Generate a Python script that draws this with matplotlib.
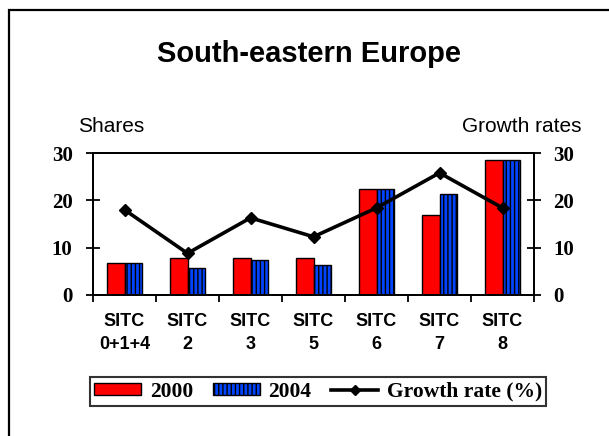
import numpy as np
import matplotlib.pyplot as plt
from matplotlib.patches import Rectangle, Patch
from matplotlib.lines import Line2D

# Data
categories = ["SITC\n0+1+4", "SITC\n2", "SITC\n3", "SITC\n5", "SITC\n6", "SITC\n7", "SITC\n8"]
shares_2000 = [6.8, 7.9, 7.9, 7.9, 22.5, 16.8, 28.6]
shares_2004 = [6.8, 5.6, 7.5, 6.4, 22.5, 21.3, 28.6]
growth_rate = [18.0, 8.8, 16.3, 12.3, 18.4, 25.8, 18.4]
y_ticks = [0, 10, 20, 30]

W, H = 609, 436
plt.rcParams["hatch.linewidth"] = 1.0

fig = plt.figure(figsize=(W / 100, H / 100), dpi=100)
fig.patch.set_facecolor("white")

# outer frame (only top/left visible in the reference)
fig.patches.append(Rectangle((9 / W, -0.2), 1.2, 1.2 - 10 / H, transform=fig.transFigure,
                             fill=False, edgecolor="black", linewidth=1.6))

ax = fig.add_axes([93 / W, 1 - 295 / H, 441 / W, 142 / H])
x = np.arange(len(categories))
bw = 0.27

ax.bar(x - bw / 2, shares_2000, bw, color="#ff0000", edgecolor="black", linewidth=1.0, zorder=2)
ax.bar(x + bw / 2, shares_2004, bw, color="#0044ff", edgecolor="black", linewidth=1.0,
       hatch="||||", zorder=2)

ax.set_xlim(-0.5, len(categories) - 0.5)
ax.set_ylim(0, 30)
ax.set_yticks(y_ticks)
ax.set_yticklabels([str(v) for v in y_ticks], fontfamily="Liberation Serif",
                   fontweight="bold", fontsize=15)
ax.tick_params(axis="y", direction="inout", length=9.5, width=1.3, pad=10)

ax.set_xticks(x)
ax.set_xticklabels(categories, fontfamily="Liberation Sans", fontweight="bold",
                   fontsize=13, linespacing=1.45)
ax.tick_params(axis="x", which="major", length=0, pad=13)
ax.set_xticks(np.arange(-0.5, len(categories)), minor=True)
ax.tick_params(axis="x", which="minor", direction="out", length=5, width=1.3)

for s in ax.spines.values():
    s.set_linewidth(1.3)

ax2 = ax.twinx()
ax2.set_ylim(0, 30)
ax2.set_yticks(y_ticks)
ax2.set_yticklabels([str(v) for v in y_ticks], fontfamily="Liberation Serif",
                    fontweight="bold", fontsize=15)
ax2.tick_params(axis="y", direction="inout", length=9.5, width=1.3, pad=9)
ax2.plot(x, growth_rate, color="black", linewidth=2.6, marker="D", markersize=6, zorder=3)
for s in ax2.spines.values():
    s.set_linewidth(1.3)

fig.text(309 / W, 1 - 54 / H, "South-eastern Europe", ha="center", va="center",
         fontfamily="Liberation Sans", fontweight="bold", fontsize=21)
fig.text(78 / W, 1 - 126 / H, "Shares", ha="left", va="center",
         fontfamily="Liberation Sans", fontsize=15)
fig.text(581 / W, 1 - 126 / H, "Growth rates", ha="right", va="center",
         fontfamily="Liberation Sans", fontsize=15)

handles = [
    Patch(facecolor="#ff0000", edgecolor="black", linewidth=1.0),
    Patch(facecolor="#0044ff", edgecolor="black", linewidth=1.0, hatch="||||"),
    Line2D([], [], color="black", linewidth=2.6, marker="D", markersize=5),
]
leg = fig.legend(handles, ["2000", "2004", "Growth rate (%)"], loc="center",
                 bbox_to_anchor=(318 / W, 1 - 391.5 / H), ncol=3, frameon=True,
                 fancybox=False, handlelength=2.2, handleheight=0.45, handletextpad=0.4,
                 columnspacing=0.9, borderpad=0.2, borderaxespad=0,
                 prop={"family": "Liberation Serif", "weight": "bold", "size": 15.5})
leg.get_frame().set_edgecolor("black")
leg.get_frame().set_linewidth(1.5)

fig.savefig("out.png", dpi=100)
